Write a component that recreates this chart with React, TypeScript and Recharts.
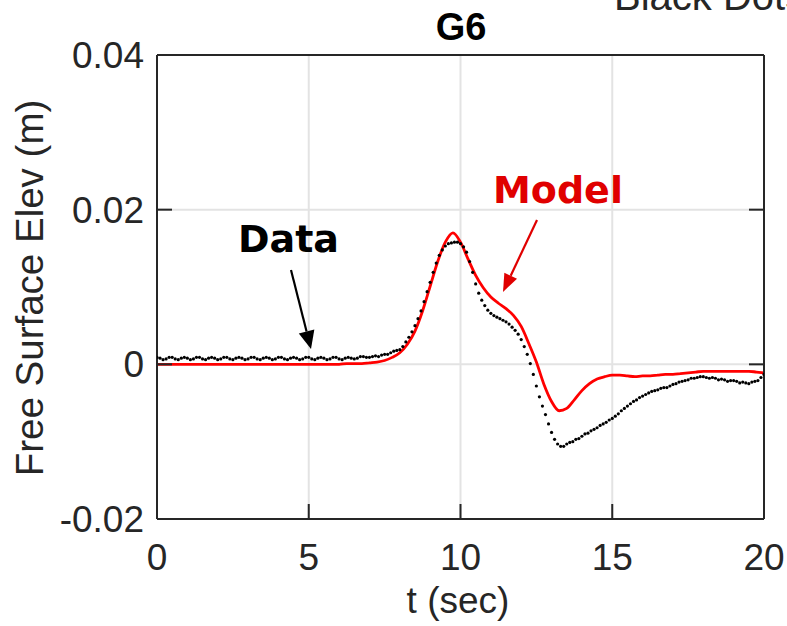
import { LineChart, Line, XAxis, YAxis, CartesianGrid } from "recharts";

// gauge G6 free surface elevation, sampled every 0.1 s (measured) and 0.25 s (model)
const dataStep = 0.1;
const dataElev = [
  0.0009, 0.0008, 0.0006, 0.0007, 0.0009, 0.0009, 0.0007, 0.0006, 0.0008, 0.0009,
  0.0008, 0.0006, 0.0007, 0.0009, 0.0009, 0.0007, 0.0006, 0.0008, 0.0009, 0.0008,
  0.0006, 0.0007, 0.0009, 0.0009, 0.0007, 0.0006, 0.0008, 0.0009, 0.0008, 0.0006,
  0.0007, 0.0009, 0.0009, 0.0007, 0.0006, 0.0008, 0.0009, 0.0008, 0.0006, 0.0007,
  0.0009, 0.0009, 0.0007, 0.0006, 0.0008, 0.0009, 0.0008, 0.0006, 0.0007, 0.0009,
  0.0009, 0.0007, 0.0006, 0.0008, 0.0009, 0.0008, 0.0006, 0.0007, 0.0009, 0.0009,
  0.0007, 0.0006, 0.0008, 0.0009, 0.0008, 0.0007, 0.0008, 0.0010, 0.0010, 0.0009,
  0.0009, 0.0010, 0.0011, 0.0010, 0.0012, 0.0013, 0.0013, 0.0015, 0.0017, 0.0018,
  0.0019, 0.0023, 0.0029, 0.0035, 0.0042, 0.0050, 0.0059, 0.0069, 0.0081, 0.0094,
  0.0106, 0.0119, 0.0131, 0.0141, 0.0148, 0.0153, 0.0156, 0.0157, 0.0158, 0.0158,
  0.0156, 0.0152, 0.0145, 0.0133, 0.0119, 0.0104, 0.0092, 0.0083, 0.0076, 0.0070,
  0.0066, 0.0063, 0.0061, 0.0059, 0.0057, 0.0055, 0.0052, 0.0048, 0.0044, 0.0039,
  0.0032, 0.0023, 0.0013, 0.0001, -0.0013, -0.0028, -0.0042, -0.0054, -0.0065, -0.0077,
  -0.0088, -0.0097, -0.0103, -0.0106, -0.0106, -0.0103, -0.0101, -0.0100, -0.0097, -0.0096,
  -0.0093, -0.0090, -0.0089, -0.0086, -0.0084, -0.0082, -0.0079, -0.0077, -0.0075, -0.0072,
  -0.0070, -0.0067, -0.0064, -0.0060, -0.0057, -0.0054, -0.0051, -0.0048, -0.0046, -0.0043,
  -0.0041, -0.0039, -0.0037, -0.0035, -0.0034, -0.0033, -0.0031, -0.0030, -0.0030, -0.0028,
  -0.0026, -0.0025, -0.0023, -0.0022, -0.0021, -0.0020, -0.0018, -0.0018, -0.0017, -0.0016,
  -0.0016, -0.0017, -0.0018, -0.0017, -0.0018, -0.0020, -0.0019, -0.0020, -0.0022, -0.0021,
  -0.0021, -0.0022, -0.0024, -0.0023, -0.0024, -0.0025, -0.0023, -0.0022, -0.0021, -0.0017,
  -0.0013,
];

const modelStep = 0.25;
const modelElev = [
  0, 0, 0, 0, 0, 0, 0, 0,
  0, 0, 0, 0, 0, 0, 0, 0,
  0, 0, 0, 0, 0, 0, 0, 0,
  0.0000, 0.0001, 0.0001, 0.0001, 0.0002, 0.0003, 0.0005, 0.0009,
  0.0015, 0.0026, 0.0043, 0.0069, 0.0101, 0.0133, 0.0158, 0.0170,
  0.0158, 0.0136, 0.0115, 0.0099, 0.0087, 0.0079, 0.0072, 0.0063,
  0.0049, 0.0027, 0.0003, -0.0026, -0.0048, -0.0060, -0.0057, -0.0046,
  -0.0034, -0.0025, -0.0019, -0.0016, -0.0014, -0.0014, -0.0015, -0.0016,
  -0.0015, -0.0015, -0.0014, -0.0013, -0.0013, -0.0012, -0.0011, -0.0010,
  -0.0009, -0.0009, -0.0009, -0.0009, -0.0009, -0.0009, -0.0009, -0.0010,
  -0.0011,
];

const xTicks = [0, 5, 10, 15, 20];
const yTicks = [-0.02, 0, 0.02, 0.04];

const dataPts = dataElev.map((v, i) => ({ t: i * dataStep, v }));
const modelPts = modelElev.map((v, i) => ({ t: i * modelStep, v }));

const AX = "#262626";
const FONT = "'Liberation Sans', Arial, sans-serif";
const TICK_LEN = 15;

const BottomTick = (p: any) => (
  <g>
    <line x1={p.x} y1={p.y} x2={p.x} y2={p.y - TICK_LEN} stroke={AX} strokeWidth={2} />
    <text x={p.x} y={p.y + 51} textAnchor="middle" fontFamily={FONT} fontSize={37} fill={AX}>
      {p.payload.value}
    </text>
  </g>
);

const TopTick = (p: any) => (
  <line x1={p.x} y1={p.y} x2={p.x} y2={p.y + TICK_LEN} stroke={AX} strokeWidth={2} />
);

const LeftTick = (p: any) => (
  <g>
    <line x1={p.x} y1={p.y} x2={p.x + TICK_LEN} y2={p.y} stroke={AX} strokeWidth={2} />
    <text x={p.x - 13} y={p.y + 13} textAnchor="end" fontFamily={FONT} fontSize={37} fill={AX}>
      {String(p.payload.value)}
    </text>
  </g>
);

const RightTick = (p: any) => (
  <line x1={p.x} y1={p.y} x2={p.x - TICK_LEN} y2={p.y} stroke={AX} strokeWidth={2} />
);

const Arrow = ({ x1, y1, x2, y2, color, head, half }: any) => {
  const len = Math.hypot(x2 - x1, y2 - y1);
  const ux = (x2 - x1) / len;
  const uy = (y2 - y1) / len;
  const bx = x2 - ux * head;
  const by = y2 - uy * head;
  const pts = `${x2},${y2} ${bx - uy * half},${by + ux * half} ${bx + uy * half},${by - ux * half}`;
  return (
    <g>
      <line x1={x1} y1={y1} x2={bx} y2={by} stroke={color} strokeWidth={2.2} />
      <polygon points={pts} fill={color} />
    </g>
  );
};

export default function App() {
  return (
    <div style={{ position: "absolute", left: 0, top: 0, width: 787, height: 626, background: "#fff" }}>
      <LineChart width={787} height={626} margin={{ top: 54, right: 22, bottom: 106, left: 156 }}>
        <CartesianGrid stroke="#e3e3e3" strokeWidth={2} />
        <XAxis
          dataKey="t"
          type="number"
          domain={[0, 20]}
          ticks={xTicks}
          interval={0}
          height={1}
          tickSize={0}
          tickMargin={0}
          tickLine={false}
          tick={BottomTick}
          axisLine={{ stroke: AX, strokeWidth: 2 }}
          allowDataOverflow
        />
        <XAxis
          xAxisId="top"
          orientation="top"
          type="number"
          domain={[0, 20]}
          ticks={xTicks}
          interval={0}
          height={1}
          tickSize={0}
          tickMargin={0}
          tickLine={false}
          tick={TopTick}
          axisLine={{ stroke: AX, strokeWidth: 2 }}
          allowDataOverflow
        />
        <YAxis
          type="number"
          domain={[-0.02, 0.04]}
          ticks={yTicks}
          interval={0}
          width={1}
          tickSize={0}
          tickMargin={0}
          tickLine={false}
          tick={LeftTick}
          axisLine={{ stroke: AX, strokeWidth: 2 }}
          allowDataOverflow
        />
        <YAxis
          yAxisId="right"
          orientation="right"
          type="number"
          domain={[-0.02, 0.04]}
          ticks={yTicks}
          interval={0}
          width={1}
          tickSize={0}
          tickMargin={0}
          tickLine={false}
          tick={RightTick}
          axisLine={{ stroke: AX, strokeWidth: 2 }}
          allowDataOverflow
        />
        <Line
          data={modelPts}
          dataKey="v"
          type="monotone"
          stroke="#ff0000"
          strokeWidth={2.8}
          dot={false}
          activeDot={false}
          isAnimationActive={false}
        />
        <Line
          data={dataPts}
          dataKey="v"
          type="linear"
          stroke="none"
          dot={{ r: 1.6, fill: "#000", stroke: "none" }}
          activeDot={false}
          isAnimationActive={false}
        />
      </LineChart>
      <svg
        width={787}
        height={626}
        style={{ position: "absolute", left: 0, top: 0, pointerEvents: "none" }}
      >
        <text x={461} y={40} textAnchor="middle" fontFamily={FONT} fontWeight="bold" fontSize={38} fill="#000">
          G6
        </text>
        <text x={614} y={10} fontFamily={FONT} fontSize={40} fill={AX}>
          Black Dots = Data
        </text>
        <text x={458} y={613} textAnchor="middle" fontFamily={FONT} fontSize={37} fill={AX}>
          t (sec)
        </text>
        <text
          transform="translate(43,288) rotate(-90)"
          textAnchor="middle"
          fontFamily={FONT}
          fontSize={38.5}
          fill={AX}
        >
          Free Surface Elev (m)
        </text>
        <text x={238} y={252} fontFamily="'DejaVu Sans', sans-serif" fontWeight="bold" fontSize={38} fill="#000">
          Data
        </text>
        <Arrow x1={291} y1={270} x2={311} y2={349} color="#000" head={18} half={8} />
        <text x={493} y={203} fontFamily="'DejaVu Sans', sans-serif" fontWeight="bold" fontSize={38} fill="#e00000">
          Model
        </text>
        <Arrow x1={537} y1={220} x2={503} y2={292} color="#e00000" head={18} half={7} />
      </svg>
    </div>
  );
}
